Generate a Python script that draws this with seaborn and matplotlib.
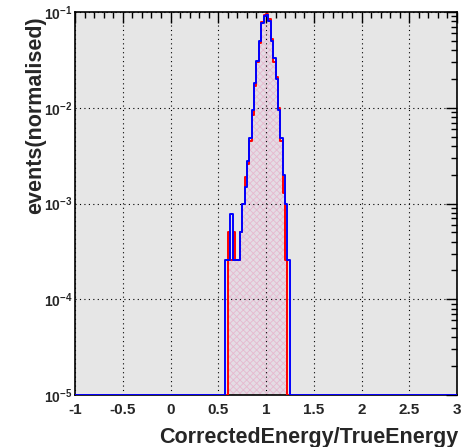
import numpy as np
import pandas as pd
import matplotlib
matplotlib.use("Agg")
import matplotlib.pyplot as plt
import seaborn as sns
from matplotlib.ticker import MultipleLocator, LogLocator, NullFormatter, FixedLocator, FixedFormatter

# ---------------- data ----------------
bin_left = [0.575, 0.600, 0.625, 0.650, 0.675, 0.700, 0.725, 0.750, 0.775,
            0.800, 0.825, 0.850, 0.875, 0.900, 0.925, 0.950, 0.975, 1.000,
            1.025, 1.050, 1.075, 1.100, 1.125, 1.150, 1.175, 1.200, 1.225]
blue_vals = [2.6e-4, 2.6e-4, 7.7e-4, 2.6e-4, 2.6e-4, 2.6e-4, 5.1e-4, 1.0e-3, 1.5e-3,
             2.8e-3, 4.8e-3, 9.5e-3, 1.8e-2, 3.1e-2, 5.0e-2, 7.6e-2, 9.0e-2, 9.4e-2,
             8.0e-2, 5.0e-2, 3.3e-2, 2.0e-2, 9.5e-3, 4.8e-3, 2.0e-3, 1.0e-3, 2.6e-4]
red_vals = [0.0, 5.1e-4, 2.6e-4, 5.1e-4, 2.6e-4, 2.6e-4, 5.1e-4, 1.0e-3, 1.9e-3,
            2.6e-3, 4.5e-3, 8.5e-3, 1.7e-2, 3.0e-2, 4.8e-2, 7.9e-2, 9.2e-2, 9.5e-2,
            8.4e-2, 5.2e-2, 3.0e-2, 2.1e-2, 1.0e-2, 4.5e-3, 1.3e-3, 2.6e-4, 0.0]
hist_range = (-1.0, 3.0)
n_bins = 160
x_label = "CorrectedEnergy/TrueEnergy"
y_label = "events(normalised)"
x_ticks = [-1, -0.5, 0, 0.5, 1, 1.5, 2, 2.5, 3]
x_tick_labels = ["-1", "-0.5", "0", "0.5", "1", "1.5", "2", "2.5", "3"]
y_ticks = [1e-5, 1e-4, 1e-3, 1e-2, 1e-1]
y_tick_labels = [r"$\mathbf{10^{-5}}$", r"$\mathbf{10^{-4}}$", r"$\mathbf{10^{-3}}$",
                 r"$\mathbf{10^{-2}}$", r"$\mathbf{10^{-1}}$"]
y_min, y_max = 1e-5, 1e-1

# ---------------- full histogram arrays ----------------
edges = np.linspace(hist_range[0], hist_range[1], n_bins + 1)
centers = 0.5 * (edges[:-1] + edges[1:])
width = edges[1] - edges[0]
idx = np.round((np.array(bin_left) - hist_range[0]) / width).astype(int)
blue_full = np.zeros(n_bins)
red_full = np.zeros(n_bins)
blue_full[idx] = blue_vals
red_full[idx] = red_vals
df = pd.DataFrame({
    "x": centers,
    "blue": np.maximum(blue_full, y_min),
    "red": np.maximum(red_full, y_min),
    "red_fill": red_full,
})

# ---------------- style ----------------
sns.set_style("white")
plt.rcParams["font.family"] = ["Liberation Sans", "DejaVu Sans"]
plt.rcParams["font.weight"] = "bold"
plt.rcParams["mathtext.fontset"] = "custom"
plt.rcParams["mathtext.rm"] = "Liberation Sans:bold"
plt.rcParams["mathtext.bf"] = "Liberation Sans:bold"
plt.rcParams["hatch.color"] = "#e6b9cf"
plt.rcParams["hatch.linewidth"] = 0.6

fig = plt.figure(figsize=(4.62, 4.47), dpi=100)
fig.patch.set_facecolor("white")
ax = fig.add_axes([75 / 462, 1 - 395 / 447, 382 / 462, 383 / 447])
ax.set_facecolor("#e6e6e6")
ax.set_yscale("log")

common = dict(data=df, x="x", bins=n_bins, binrange=hist_range, element="step", ax=ax)
sns.histplot(weights="red_fill", fill=True, facecolor="#e4dce4", edgecolor="#e6b9cf",
             hatch="xxxxx", linewidth=0, alpha=1, zorder=1, **common)
sns.histplot(weights="red", fill=False, color="#ff0000", linewidth=1.4, zorder=6, **common)
sns.histplot(weights="blue", fill=False, color="#0000ff", linewidth=1.4, zorder=7, **common)

ax.set_xlim(*hist_range)
ax.set_ylim(y_min, y_max)
ax.set_xlabel("")
ax.set_ylabel("")

ax.xaxis.set_major_locator(FixedLocator(x_ticks))
ax.xaxis.set_major_formatter(FixedFormatter(x_tick_labels))
ax.xaxis.set_minor_locator(MultipleLocator(0.1))
ax.yaxis.set_major_locator(FixedLocator(y_ticks))
ax.yaxis.set_major_formatter(FixedFormatter(y_tick_labels))
ax.yaxis.set_minor_locator(LogLocator(base=10, subs=np.arange(2, 10)))
ax.yaxis.set_minor_formatter(NullFormatter())

ax.tick_params(axis="both", which="both", direction="in", top=True, right=True,
               color="black", width=1.0)
ax.tick_params(axis="both", which="major", length=8)
ax.tick_params(axis="both", which="minor", length=4)
ax.tick_params(axis="x", which="major", labelsize=11, pad=6)
ax.tick_params(axis="y", which="major", labelsize=10, pad=2)
for lab in ax.get_xticklabels():
    lab.set_fontweight("bold")

ax.grid(True, which="major", linestyle=(0, (1, 3)), color="black", linewidth=0.8)
ax.set_axisbelow(False)
for sp in ax.spines.values():
    sp.set_color("black")
    sp.set_linewidth(1.2)
    sp.set_zorder(5)

fig.text(458 / 462, 1 - 437 / 447, x_label, ha="right", va="center",
         fontsize=15.5, fontweight="bold")
fig.text(36 / 462, 1 - 16 / 447, y_label, ha="center", va="top", rotation=90,
         fontsize=15.5, fontweight="bold")

fig.savefig("out.png", dpi=100, facecolor="white")
